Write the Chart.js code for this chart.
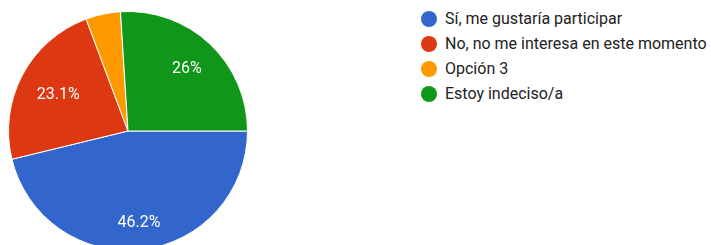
<!DOCTYPE html>
<html>
<head>
<meta charset="utf-8">
<script src="https://cdn.jsdelivr.net/npm/chart.js@4"></script>
<style>
  html, body { margin: 0; padding: 0; background: #fff; overflow: hidden; }
  body { width: 711px; height: 245px; position: relative; font-family: Roboto, Arial, sans-serif; }
  #pieWrap { position: absolute; left: 8px; top: 11px; width: 240px; height: 240px; }
  #legend { position: absolute; left: 421px; top: 6px; margin: 0; padding: 0; list-style: none; }
  #legend li { height: 25px; display: flex; align-items: center; font-size: 16px; color: #222; white-space: nowrap; }
  #legend .dot { width: 16px; height: 16px; border-radius: 50%; margin-right: 8px; flex: none; }
</style>
</head>
<body>
<div id="pieWrap"><canvas id="pieChart" width="240" height="240"></canvas></div>
<ul id="legend"></ul>
<script>
// answers and their share of responses (%)
const labels = ['Sí, me gustaría participar', 'No, no me interesa en este momento', 'Opción 3', 'Estoy indeciso/a'];
const values = [46.2, 23.1, 4.7, 26];
const valueLabels = ['46.2%', '23.1%', '', '26%'];
const colors = ['#3366cc', '#dc3912', '#ff9900', '#109618'];

// how far out (fraction of radius) each percent label sits
const labelRadius = [0.77, 0.66, 0.72, 0.72];

// build the legend on the right
const legend = document.getElementById('legend');
labels.forEach((name, i) => {
  const li = document.createElement('li');
  const dot = document.createElement('span');
  dot.className = 'dot';
  dot.style.background = colors[i];
  li.appendChild(dot);
  li.appendChild(document.createTextNode(name));
  legend.appendChild(li);
});

// white percent text inside the slices
const sliceLabels = {
  id: 'sliceLabels',
  afterDatasetsDraw(chart) {
    const ctx = chart.ctx;
    const arcs = chart.getDatasetMeta(0).data;
    ctx.save();
    ctx.fillStyle = '#fff';
    ctx.font = '16px Roboto, Arial, sans-serif';
    ctx.textAlign = 'center';
    ctx.textBaseline = 'middle';
    arcs.forEach((arc, i) => {
      if (!valueLabels[i]) return;
      const mid = (arc.startAngle + arc.endAngle) / 2;
      const r = arc.outerRadius * labelRadius[i];
      ctx.fillText(valueLabels[i], arc.x + Math.cos(mid) * r, arc.y + Math.sin(mid) * r + 1);
    });
    ctx.restore();
  }
};

new Chart('pieChart', {
  type: 'pie',
  data: {
    labels: labels,
    datasets: [{
      data: values,
      backgroundColor: colors,
      borderColor: '#fff',
      borderWidth: 1
    }]
  },
  options: {
    responsive: false,
    animation: false,
    rotation: 90,
    plugins: {
      legend: { display: false },
      tooltip: { enabled: false }
    }
  },
  plugins: [sliceLabels]
});
</script>
</body>
</html>
